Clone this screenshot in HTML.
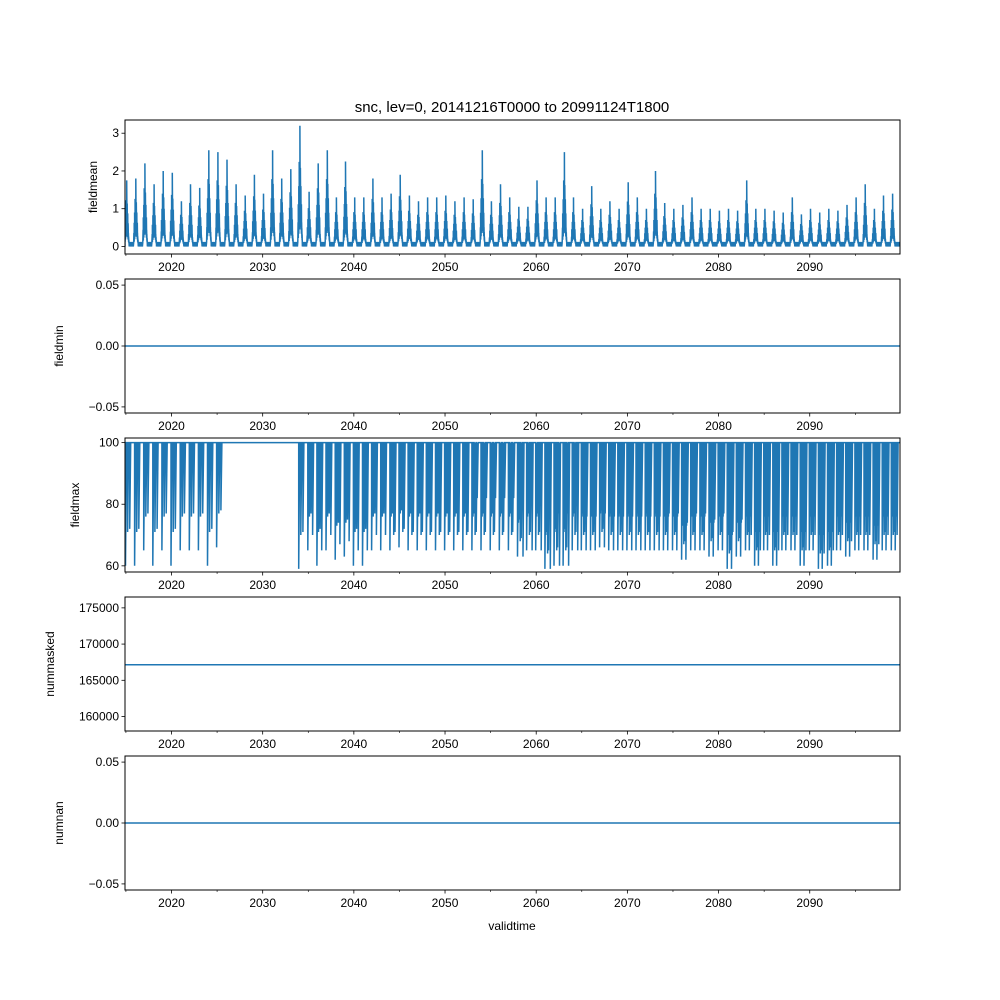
<!DOCTYPE html>
<html><head><meta charset="utf-8">
<style>
html,body{margin:0;padding:0;background:#fff;}
svg{display:block;font-family:"Liberation Sans","DejaVu Sans",sans-serif;}
</style></head>
<body>
<svg id="chart" width="1000" height="1000" viewBox="0 0 1000 1000">
<text x="512" y="112" font-size="15" text-anchor="middle">snc, lev=0, 20141216T0000 to 20991124T1800</text>
</svg>
<script>
const years = [];
for (let y = 2015; y <= 2099; y++) years.push(y);
const meanPeaks = [1.75,1.8,2.2,1.65,2.0,1.95,1.2,1.65,1.55,2.55,2.5,2.3,1.65,1.35,1.9,1.4,2.55,1.8,2.05,3.2,1.45,2.2,2.55,1.3,2.25,1.3,1.3,1.8,1.3,1.4,1.9,1.35,1.2,1.3,1.3,1.35,1.2,1.3,1.25,2.55,1.2,1.65,1.3,1.05,1.05,1.75,1.3,1.3,2.5,1.3,1.0,1.6,1.0,1.2,1.0,1.7,1.3,1.0,2.0,1.15,1.0,1.1,1.3,1.0,1.0,0.95,1.0,0.95,1.75,1.0,1.0,0.95,0.9,1.3,0.85,1.0,0.9,1.0,0.95,1.1,1.3,1.65,1.0,1.35,1.4];
const maxMins = [60,60,65,60,65,60,65,65,65,60,66,100,100,100,100,100,100,100,100,59,65,60,65,62,63,60,60,65,65,65,66,65,65,65,65,65,65,65,65,65,65,65,65,63,65,65,59,60,60,65,65,65,66,65,65,65,65,65,65,65,65,62,65,65,63,65,59,63,65,60,65,60,65,65,60,65,59,60,65,63,65,65,62,65,65];
const maxCounts = [3,3,3,3,3,3,3,3,3,3,3,3,3,3,3,3,3,3,3,3,4,4,4,4,4,4,4,4,4,5,5,5,5,5,5,5,5,5,6,6,6,6,6,7,7,7,7,7,7,7,8,8,8,8,8,8,8,8,8,9,9,9,9,9,9,9,9,9,10,10,10,10,10,10,10,10,10,10,10,10,10,10,10,10,10];
const fieldminValue = 0.0;
const nummaskedValue = 167150;
const numnanValue = 0.0;
const xTicks = [2020,2030,2040,2050,2060,2070,2080,2090];
const minorTicks = [2015,2025,2035,2045,2055,2065,2075,2085,2095];

const NS = "http://www.w3.org/2000/svg";
const svg = document.getElementById('chart');
const L = 125, R = 900, C = '#1f77b4';
const X0 = 2014.9, X1 = 2099.9;
function xs(t){ return L + (t - X0) / (X1 - X0) * (R - L); }
function el(tag, attrs, parent){
  const e = document.createElementNS(NS, tag);
  for (const k in attrs) e.setAttribute(k, attrs[k]);
  (parent || svg).appendChild(e);
  return e;
}
const panels = [
  {name:'fieldmean', top:120, bot:254, lo:-0.2, hi:3.35, ticks:[0,1,2,3], fmt:v=>String(v)},
  {name:'fieldmin', top:279, bot:413, lo:-0.055, hi:0.055, ticks:[-0.05,0,0.05], fmt:v=>v.toFixed(2).replace('-','−')},
  {name:'fieldmax', top:438, bot:572, lo:58, hi:101.5, ticks:[60,80,100], fmt:v=>String(v)},
  {name:'nummasked', top:597, bot:731, lo:158000, hi:176500, ticks:[160000,165000,170000,175000], fmt:v=>String(v)},
  {name:'numnan', top:756, bot:890, lo:-0.055, hi:0.055, ticks:[-0.05,0,0.05], fmt:v=>v.toFixed(2).replace('-','−')}
];
panels.forEach((p, idx) => {
  const g = el('g', {});
  
  
  const ys = v => p.bot - (v - p.lo) / (p.hi - p.lo) * (p.bot - p.top);
  const clip = el('clipPath', {id:'clip'+idx}, g);
  el('rect', {x:L, y:p.top, width:R-L, height:p.bot-p.top}, clip);
  const data = el('g', {'clip-path':'url(#clip'+idx+')'}, g);
  
  
  if (idx === 0) {
    let d = 'M' + L + ' ' + ys(0).toFixed(1);
    const hs = [0.2,0.35,0.3,0.5,0.4,0.7,0.45,0.55,1.0,0.5,0.65,0.4,0.5,0.3,0.35,0.2,0.15,0.1];
    years.forEach((yr, i) => {
      const pk = meanPeaks[i];
      hs.forEach((h, j) => {
        const x = xs(yr - 0.12 + j * 0.026);
        d += 'L' + x.toFixed(1) + ' ' + ys(pk * h).toFixed(1) + 'L' + (x + 0.25).toFixed(1) + ' ' + ys(pk * h * 0.35).toFixed(1);
      });
      for (let k = 0; k < 12; k++) {
        const x = xs(yr + 0.36 + k * 0.045);
        d += 'L' + x.toFixed(1) + ' ' + ys(k % 2 ? 0.12 : 0).toFixed(1);
      }
    });
    el('path', {d:d, fill:'none', stroke:C, 'stroke-width':1.5}, data);
  } else if (idx === 2) {
    let d = 'M' + L + ' ' + ys(100);
    years.forEach((yr, i) => {
      const n = maxCounts[i], mn = maxMins[i];
      for (let k = 0; k < n; k++) {
        const x = xs(yr - 0.05 + k * 0.7 / n);
        const v = k === 0 ? mn : (mn < 100 ? Math.min(100, mn + (k % 3) * 6 + (k % 2) * 5) : 100);
        d += 'L' + x.toFixed(1) + ' ' + ys(100).toFixed(1) + 'L' + x.toFixed(1) + ' ' + ys(v).toFixed(1) + 'L' + (x + 1).toFixed(1) + ' ' + ys(100).toFixed(1);
      }
      d += 'L' + xs(yr + 0.95).toFixed(1) + ' ' + ys(100).toFixed(1);
    });
    el('path', {d:d, fill:'none', stroke:C, 'stroke-width':1.5}, data);
  } else {
    const v = idx === 1 ? fieldminValue : idx === 3 ? nummaskedValue : numnanValue;
    el('line', {x1:L, x2:R, y1:ys(v), y2:ys(v), stroke:C, 'stroke-width':1.5}, data);
  }
  el('rect', {x:L, y:p.top, width:R-L, height:p.bot-p.top, fill:'none', stroke:'#000', 'stroke-width':1}, g);
  p.ticks.forEach(t => {
    const y = ys(t);
    el('line', {x1:L-3.5, x2:L, y1:y, y2:y, stroke:'#000', 'stroke-width':0.8}, g);
    const tx = el('text', {x:L-6, y:y+4, 'font-size':12, 'text-anchor':'end'}, g);
    tx.textContent = p.fmt(t);
    
    
  });
  xTicks.forEach(t => {
    const x = xs(t);
    el('line', {x1:x, x2:x, y1:p.bot, y2:p.bot+3.5, stroke:'#000', 'stroke-width':0.8}, g);
    const tx = el('text', {x:x, y:p.bot+17, 'font-size':12, 'text-anchor':'middle'}, g);
    tx.textContent = t;
    
    
  });
  minorTicks.forEach(t => {
    const x = xs(t);
    el('line', {x1:x, x2:x, y1:p.bot, y2:p.bot+2, stroke:'#000', 'stroke-width':0.6}, g);
  });
  const yl = el('text', {x:0, y:0, 'font-size':12, 'text-anchor':'middle', transform:'translate(' + (idx===3?54:idx===0?97:idx===2?79:63) + ',' + ((p.top+p.bot)/2) + ') rotate(-90)'}, g);
  yl.textContent = p.name;
  
  
});
const xl = el('text', {x:512, y:930, 'font-size':12, 'text-anchor':'middle'});
xl.textContent = 'validtime';


</script>
</body></html>
